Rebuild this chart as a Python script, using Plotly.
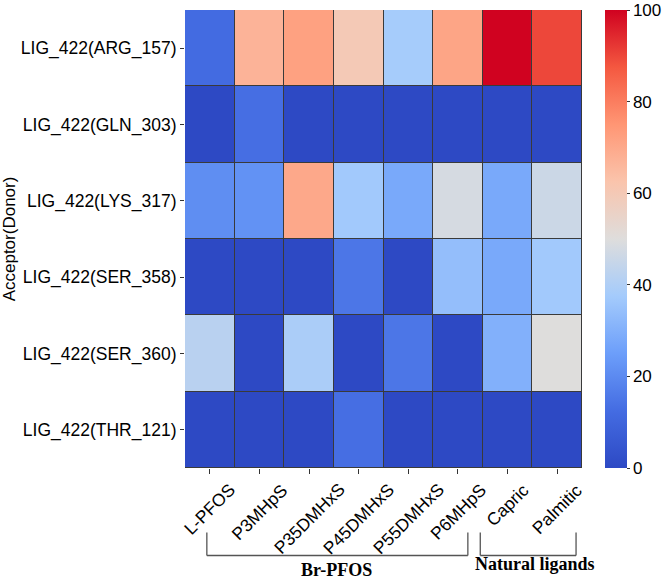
import plotly.graph_objects as go

columns = ["L-PFOS", "P3MHpS", "P35DMHxS", "P45DMHxS", "P55DMHxS", "P6MHpS", "Capric", "Palmitic"]
rows = ["LIG_422(ARG_157)", "LIG_422(GLN_303)", "LIG_422(LYS_317)",
        "LIG_422(SER_358)", "LIG_422(SER_360)", "LIG_422(THR_121)"]

arg_157 = [12, 67, 72, 60, 38, 71, 100, 90]
gln_303 = [0, 13, 0, 0, 0, 0, 0, 0]
lys_317 = [21, 22, 70, 37, 28, 48, 28, 46]
ser_358 = [0, 0, 0, 15, 0, 34, 28, 37]
ser_360 = [42, 0, 39, 0, 15, 0, 30, 50]
thr_121 = [0, 0, 0, 13, 0, 0, 0, 0]

values = [arg_157, gln_303, lys_317, ser_358, ser_360, thr_121]

groups = ["Br-PFOS", "Natural ligands"]

colorscale = [
    [0.0, "rgb(45,73,196)"],
    [0.125, "rgb(68,108,226)"],
    [0.25, "rgb(108,158,250)"],
    [0.375, "rgb(164,203,252)"],
    [0.5, "rgb(222,221,220)"],
    [0.625, "rgb(250,196,172)"],
    [0.75, "rgb(255,150,116)"],
    [0.875, "rgb(244,88,64)"],
    [1.0, "rgb(208,2,32)"],
]

fig = go.Figure(go.Heatmap(
    z=values, x=columns, y=rows, zmin=0, zmax=100,
    colorscale=colorscale, xgap=1, ygap=1,
    colorbar=dict(
        x=1.057, xanchor="left", xpad=0, ypad=0, y=0.5, yanchor="middle", len=1.0, lenmode="fraction",
        thickness=22, outlinewidth=0, ticks="outside", ticklen=3, tickcolor="#333",
        tickvals=[0, 20, 40, 60, 80, 100], ticklabeloverflow="allow",
        tickfont=dict(family="Liberation Sans, Arial", size=17, color="black"),
    ),
))

font_ax = dict(family="Liberation Sans, Arial", size=17.5, color="black")
font_x = dict(family="Liberation Sans, Arial", size=17.5, color="black")

fig.update_layout(
    width=664, height=581,
    margin=dict(l=185, r=82, t=10, b=113, autoexpand=False),
    paper_bgcolor="white", plot_bgcolor="#3a3a3a",
    xaxis=dict(showticklabels=False, ticks="outside", ticklen=5,
               tickcolor="#333", showgrid=False, zeroline=False, range=[-0.5, 7.5]),
    yaxis=dict(autorange="reversed", tickfont=font_ax, ticks="outside", ticklen=4,
               tickcolor="#333", showgrid=False, zeroline=False,
               title=dict(text="Acceptor(Donor)", font=dict(family="Liberation Sans, Arial", size=17, color="black"), standoff=6)),
)

# rotated column labels, centred under each column (matplotlib-style ha='center')
for i, name in enumerate(columns):
    fig.add_annotation(x=i, y=-0.0195, xref="x", yref="paper", text=name, showarrow=False,
                       textangle=-45, xanchor="center", yanchor="top", font=font_x)

bracket_color = "#555555"
y_top, y_bot = -0.141, -0.191
spans = [(-0.06, 5.2), (5.45, 7.38)]
label_x = [2.56, 6.56]
label_y = [-0.222, -0.21]
for (x0, x1), name, lx, ly in zip(spans, groups, label_x, label_y):
    fig.add_shape(type="line", xref="x", yref="paper", x0=x0, x1=x0, y0=y_top, y1=y_bot,
                  line=dict(color=bracket_color, width=1.3))
    fig.add_shape(type="line", xref="x", yref="paper", x0=x1, x1=x1, y0=y_top, y1=y_bot,
                  line=dict(color=bracket_color, width=1.3))
    fig.add_shape(type="line", xref="x", yref="paper", x0=x0, x1=x1, y0=y_bot, y1=y_bot,
                  line=dict(color=bracket_color, width=1.3))
    fig.add_annotation(x=lx, y=ly, xref="x", yref="paper",
                       text="<b>%s</b>" % name, showarrow=False, yanchor="middle",
                       font=dict(family="Liberation Serif, Times New Roman", size=18, color="black"))

fig.write_html("out.html")
